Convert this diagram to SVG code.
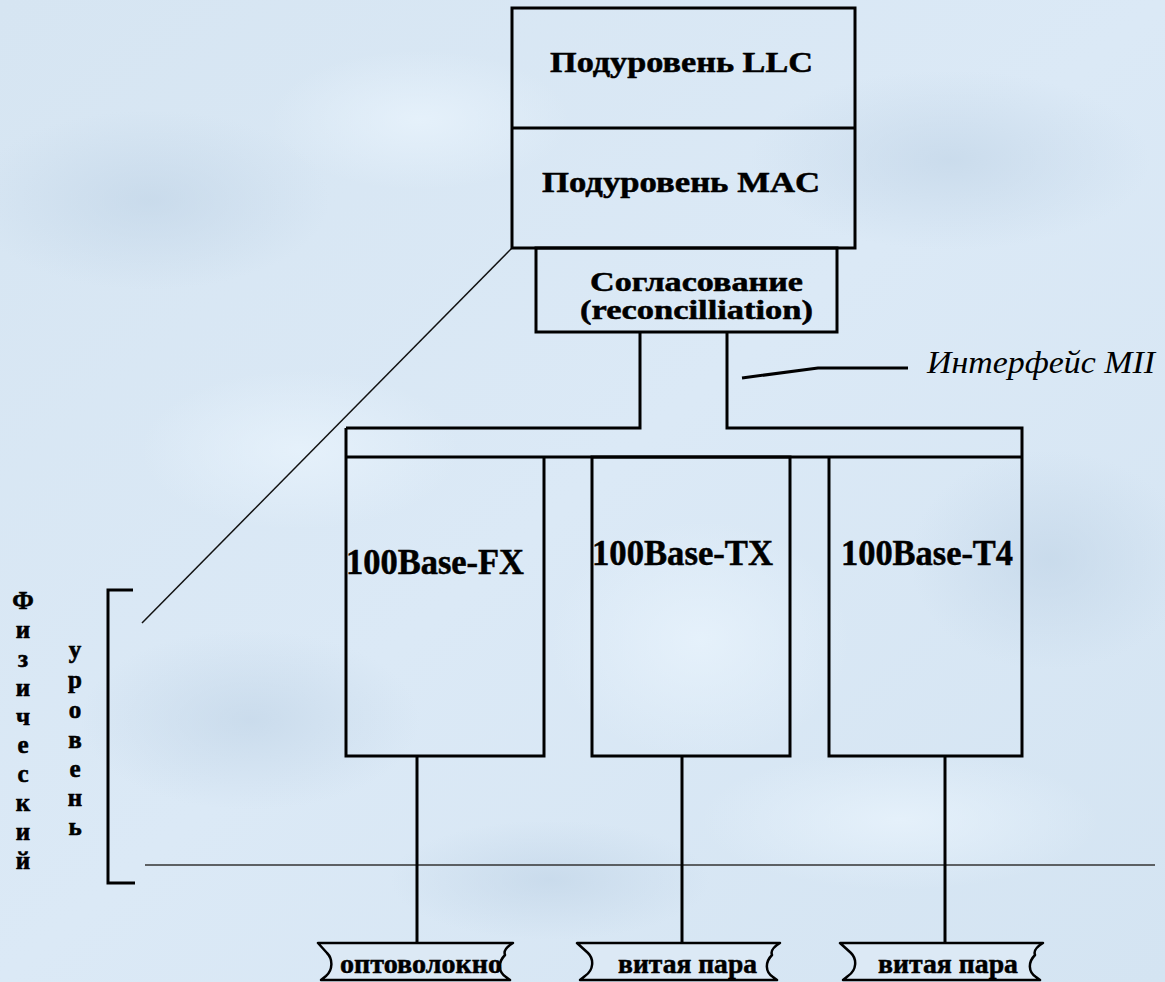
<svg xmlns="http://www.w3.org/2000/svg" width="1165" height="982" viewBox="0 0 1165 982">
<defs>
<linearGradient id="bg" x1="0" y1="0" x2="1" y2="1">
<stop offset="0" stop-color="#d6e5f2"/>
<stop offset="0.5" stop-color="#dbe9f6"/>
<stop offset="1" stop-color="#d4e4f2"/>
</linearGradient>
<radialGradient id="blob" cx="0.5" cy="0.5" r="0.5">
<stop offset="0" stop-color="#c3d6e8" stop-opacity="0.7"/>
<stop offset="1" stop-color="#c3d6e8" stop-opacity="0"/>
</radialGradient>
<radialGradient id="blob2" cx="0.5" cy="0.5" r="0.5">
<stop offset="0" stop-color="#e8f3fc" stop-opacity="0.8"/>
<stop offset="1" stop-color="#e8f3fc" stop-opacity="0"/>
</radialGradient>
</defs>
<style>
.box{fill:none;stroke:#000;stroke-width:3}
.ln{fill:none;stroke:#000;stroke-width:3}
.thin{fill:none;stroke:#111;stroke-width:1.5}
.cable{fill:#dce9f5;stroke:#000;stroke-width:2.5;stroke-linejoin:round}
text{font-family:'Liberation Serif','DejaVu Serif',serif;fill:#000}
.t{font-weight:bold;stroke:#000;stroke-width:0.5}
.it{font-style:italic}
.v{font-weight:bold;font-size:25px;text-anchor:middle;stroke:#000;stroke-width:0.6}
</style>
<rect width="1165" height="982" fill="url(#bg)"/>
<ellipse cx="150" cy="200" rx="180" ry="90" fill="url(#blob)"/>
<ellipse cx="420" cy="120" rx="150" ry="70" fill="url(#blob2)"/>
<ellipse cx="950" cy="160" rx="200" ry="90" fill="url(#blob)"/>
<ellipse cx="300" cy="450" rx="160" ry="80" fill="url(#blob2)"/>
<ellipse cx="1050" cy="560" rx="140" ry="110" fill="url(#blob)"/>
<ellipse cx="250" cy="720" rx="170" ry="90" fill="url(#blob)"/>
<ellipse cx="700" cy="640" rx="150" ry="120" fill="url(#blob2)"/>
<ellipse cx="900" cy="820" rx="200" ry="70" fill="url(#blob2)"/>
<ellipse cx="550" cy="880" rx="160" ry="60" fill="url(#blob)"/>

<g id="connectors">
<line class="thin" x1="512" y1="248" x2="142" y2="623"/>
<line x1="145" y1="865" x2="1155" y2="865" stroke="#333" stroke-width="1.5"/>
<polyline class="ln" points="133,590 108,590 108,883 135,883"/>
<polyline class="ln" points="640,332 640,428 346,428"/>
<polyline class="ln" points="727,332 727,428 1022,428 1022,457"/>
<line class="ln" x1="346" y1="457" x2="1022" y2="457"/>
<polyline class="ln" points="742,378 818,368 908,368" stroke-width="2.5"/>
<line class="ln" x1="417" y1="756" x2="417" y2="943"/>
<line class="ln" x1="682" y1="756" x2="682" y2="943"/>
<line class="ln" x1="945" y1="756" x2="945" y2="943"/>
</g>

<g id="llc-mac">
<rect class="box" x="512" y="8" width="343" height="240"/>
<line class="ln" x1="512" y1="128" x2="855" y2="128"/>
<text class="t" x="550" y="72" font-size="30" textLength="263" lengthAdjust="spacingAndGlyphs">Подуровень LLC</text>
<text class="t" x="542" y="192" font-size="30" textLength="278" lengthAdjust="spacingAndGlyphs">Подуровень MAC</text>
</g>

<g id="reconciliation">
<rect class="box" x="536" y="248" width="301" height="84"/>
<text class="t" x="590" y="291" font-size="27" textLength="213" lengthAdjust="spacingAndGlyphs">Согласование</text>
<text class="t" x="580" y="319" font-size="27" textLength="233" lengthAdjust="spacingAndGlyphs">(reconcilliation)</text>
</g>

<g id="mii-label">
<text class="it" x="927" y="373" font-size="32" textLength="228" lengthAdjust="spacingAndGlyphs">Интерфейс MII</text>
</g>

<g id="fx">
<polyline class="ln" points="346,428 346,756 544,756 544,457"/>
<text class="t" x="346" y="574" font-size="35" textLength="178" lengthAdjust="spacingAndGlyphs">100Base-FX</text>
</g>
<g id="tx">
<rect class="box" x="592" y="457" width="198" height="299"/>
<text class="t" x="592" y="565" font-size="35" textLength="181" lengthAdjust="spacingAndGlyphs">100Base-TX</text>
</g>
<g id="t4">
<polyline class="ln" points="829,457 829,756 1022,756 1022,457"/>
<text class="t" x="841" y="565" font-size="35" textLength="172" lengthAdjust="spacingAndGlyphs">100Base-T4</text>
</g>

<g id="phys-label">
<text class="v"><tspan x="23" y="609">Ф</tspan><tspan x="23" y="638">и</tspan><tspan x="23" y="667">з</tspan><tspan x="23" y="696">и</tspan><tspan x="23" y="725">ч</tspan><tspan x="23" y="753">е</tspan><tspan x="23" y="782">с</tspan><tspan x="23" y="811">к</tspan><tspan x="23" y="840">и</tspan><tspan x="23" y="869">й</tspan></text>
<text class="v"><tspan x="75" y="658">у</tspan><tspan x="75" y="688">р</tspan><tspan x="75" y="718">о</tspan><tspan x="75" y="748">в</tspan><tspan x="75" y="777">е</tspan><tspan x="75" y="806">н</tspan><tspan x="75" y="835">ь</tspan></text>
</g>

<g id="cable-fiber">
<path class="cable" d="M318,943 H513 C508,946 503,950 505,955 C498,962 498,972 506,977 L510,980 H321 L326,976 C333,970 333,959 327,953 Z"/>
<text class="t" x="340" y="973" font-size="28" textLength="162" lengthAdjust="spacingAndGlyphs">оптоволокно</text>
</g>
<g id="cable-tp1">
<path class="cable" d="M577,943 H780 C775,946 770,950 772,955 C765,962 765,972 773,977 L777,980 H580 L585,976 C594,970 594,959 588,953 Z"/>
<text class="t" x="618" y="973" font-size="28" textLength="139" lengthAdjust="spacingAndGlyphs">витая пара</text>
</g>
<g id="cable-tp2">
<path class="cable" d="M840,943 H1043 C1038,946 1033,950 1035,955 C1028,962 1028,972 1036,977 L1040,980 H843 L848,976 C857,970 857,959 851,953 Z"/>
<text class="t" x="878" y="973" font-size="28" textLength="140" lengthAdjust="spacingAndGlyphs">витая пара</text>
</g>
</svg>
